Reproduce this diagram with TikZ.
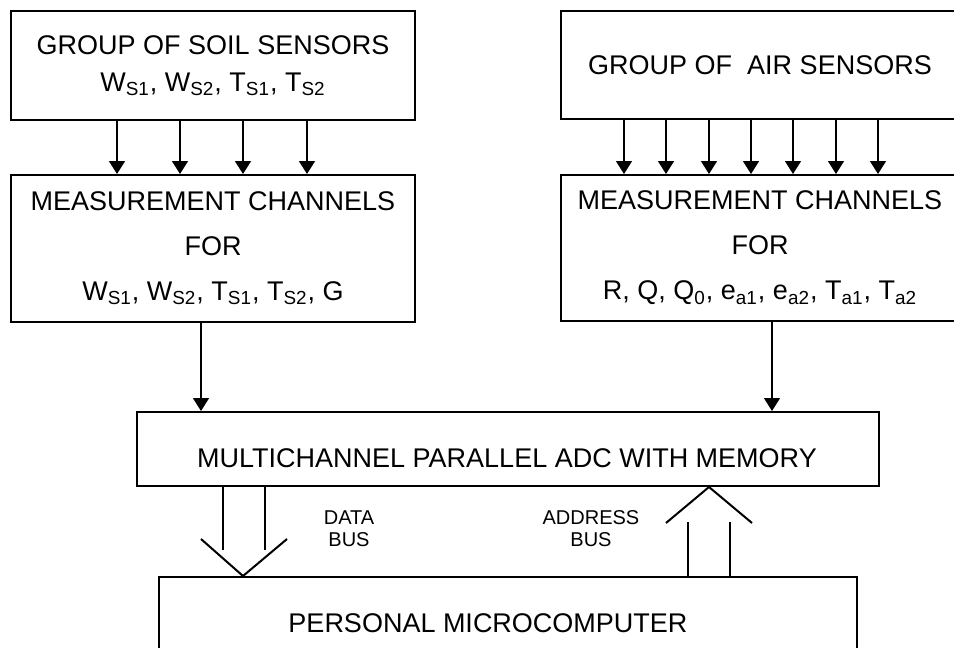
\documentclass[tikz,border=0pt]{standalone}
\usepackage{fontspec}
\setmainfont{Liberation Sans}
\usetikzlibrary{arrows.meta}

\begin{document}
\begin{tikzpicture}[x=0.5pt, y=-0.5pt,
    box/.style={draw, line width=1pt, rectangle, inner sep=0pt, align=center,
      font=\fontsize{13.5}{18.5}\selectfont},
    chan/.style={box, font=\fontsize{13.5}{22.5}\selectfont},
    txt/.style={inner sep=0pt, font=\fontsize{13.5}{16}\selectfont},
    lbl/.style={inner sep=0pt, align=center, font=\fontsize{10}{11}\selectfont},
    arr/.style={line width=0.8pt, -{Triangle[width=8pt, length=6.5pt]}},
    bus/.style={line width=1pt}]
    \path[use as bounding box, clip] (0,0) rectangle (954,648);

    \node[box, minimum width=202pt, minimum height=54.5pt] (soil) at (213,65.5)
      {GROUP OF SOIL SENSORS\\W\textsubscript{S1}, W\textsubscript{S2}, T\textsubscript{S1}, T\textsubscript{S2}};
    \node[box, minimum width=199pt, minimum height=54pt] (air) at (760,65)
      {GROUP OF~ AIR SENSORS};
    \node[chan, minimum width=202pt, minimum height=73.5pt] (chanS) at (213,248.5)
      {MEASUREMENT CHANNELS\\FOR\\W\textsubscript{S1}, W\textsubscript{S2}, T\textsubscript{S1}, T\textsubscript{S2}, G};
    \node[chan, minimum width=199pt, minimum height=73pt] (chanA) at (760,248)
      {MEASUREMENT CHANNELS\\FOR\\R, Q, Q\textsubscript{0}, e\textsubscript{a1}, e\textsubscript{a2}, T\textsubscript{a1}, T\textsubscript{a2}};
    \node[box, minimum width=371pt, minimum height=37pt] (adc) at (508,449) {};
    \node[txt] (adctext) at (507,458) {MULTICHANNEL PARALLEL ADC WITH MEMORY};
    \node[box, minimum width=349pt, minimum height=46pt] (pc) at (508,623) {};
    \node[txt] (pctext) at (488,623) {PERSONAL MICROCOMPUTER};

    \foreach \x in {117,180,243,307}
      \draw[arr] (\x,0 |- soil.south) -- (\x,0 |- chanS.north);
    \foreach \x in {624,666,709,751,793,836,878}
      \draw[arr] (\x,0 |- air.south) -- (\x,0 |- chanA.north);
    \draw[arr] (201,0 |- chanS.south) -- (201,0 |- adc.north);
    \draw[arr] (772,0 |- chanA.south) -- (772,0 |- adc.north);

    \coordinate (dtip) at (243,0 |- pc.north);
    \draw[bus] (223,0 |- adc.south) -- (223,550);
    \draw[bus] (265,0 |- adc.south) -- (265,550);
    \draw[bus] (dtip) ++(-42,-37) -- (dtip) -- ++(44,-37);
    \node[lbl] (datalbl) at (349,529) {DATA\\BUS};

    \coordinate (atip) at (709,0 |- adc.south);
    \draw[bus] (atip) ++(-43,36) -- (atip) -- ++(43,36);
    \draw[bus] (688,522) -- (688,0 |- pc.north);
    \draw[bus] (730,522) -- (730,0 |- pc.north);
    \node[lbl] (addrlbl) at (591,529) {ADDRESS\\BUS};
\end{tikzpicture}
\end{document}
